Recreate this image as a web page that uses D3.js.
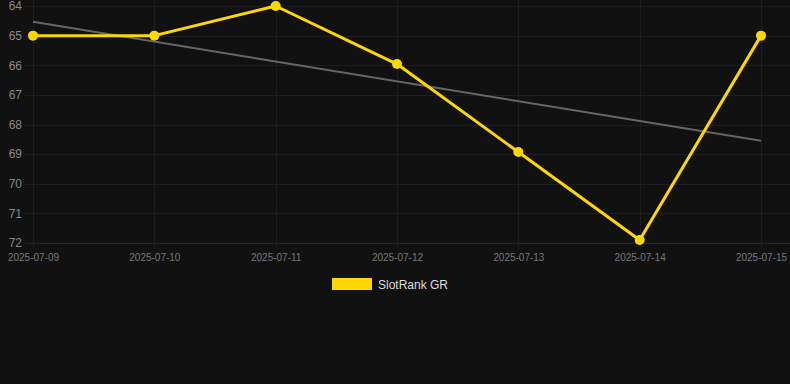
<!DOCTYPE html>
<html><head><meta charset="utf-8">
<script src="https://cdn.jsdelivr.net/npm/d3@7"></script>
<style>html,body{margin:0;padding:0;background:#111111;}svg{display:block;}</style>
</head><body>
<svg id="c" width="790" height="384"></svg>
<script>
const dates = ["2025-07-09","2025-07-10","2025-07-11","2025-07-12","2025-07-13","2025-07-14","2025-07-15"];
const rankValues = [65, 65, 64, 65.96, 68.93, 71.9, 65];
const yTicks = [64, 65, 66, 67, 68, 69, 70, 71, 72];
const seriesName = "SlotRank GR";

(function () {
const svg = d3.select("#c");
const W = 790, H = 384;
const pLeft = 33, pRight = 761, pTop = 6, pBottom = 243;

const x = d3.scalePoint().domain(dates).range([pLeft, pRight]);
const y = d3.scaleLinear().domain([64, 72]).range([pTop, pBottom]);

svg.append("rect").attr("width", W).attr("height", H).attr("fill", "#111111");

// grid
const grid = svg.append("g").attr("stroke", "#1e1e1e").attr("stroke-width", 1);
yTicks.forEach(t => {
  grid.append("line").attr("x1", pLeft - 8).attr("x2", W).attr("y1", Math.round(y(t)) + 0.5).attr("y2", Math.round(y(t)) + 0.5)
    .attr("stroke", t === 72 ? "#262626" : null);
});
dates.forEach(d => {
  grid.append("line").attr("x1", Math.round(x(d)) + 0.5).attr("x2", Math.round(x(d)) + 0.5).attr("y1", 0).attr("y2", pBottom + 6);
});

// y axis labels
const yAxis = svg.append("g").attr("transform", `translate(${pLeft - 11},0)`)
  .call(d3.axisLeft(y).tickValues(yTicks).tickSize(0).tickPadding(0).tickFormat(d3.format("d")));
yAxis.select(".domain").remove();
yAxis.selectAll("text").attr("fill", "#888888").attr("font-family", "Liberation Sans, Arial, sans-serif").attr("font-size", 12);

// x axis labels
const xAxis = svg.append("g").attr("transform", `translate(0,${pBottom + 10})`)
  .call(d3.axisBottom(x).tickSize(0).tickPadding(0));
xAxis.select(".domain").remove();
xAxis.selectAll("text").attr("fill", "#777777").attr("font-family", "Liberation Sans, Arial, sans-serif").attr("font-size", 10).attr("dy", "0.75em");

// trend line (least squares)
const n = rankValues.length;
const xs = d3.range(n);
const mx = d3.mean(xs), my = d3.mean(rankValues);
const slope = d3.sum(xs.map((v, i) => (v - mx) * (rankValues[i] - my))) / d3.sum(xs.map(v => (v - mx) ** 2));
const icpt = my - slope * mx;
svg.append("line")
  .attr("x1", x(dates[0])).attr("y1", y(icpt))
  .attr("x2", x(dates[n - 1])).attr("y2", y(icpt + slope * (n - 1)))
  .attr("stroke", "#666666").attr("stroke-width", 2);

// main line
const line = d3.line().x((d, i) => x(dates[i])).y(d => y(d));
svg.append("path").datum(rankValues).attr("d", line)
  .attr("fill", "none").attr("stroke", "#FFD700").attr("stroke-width", 3).attr("stroke-linejoin", "round");
svg.append("g").selectAll("circle").data(rankValues).join("circle")
  .attr("cx", (d, i) => x(dates[i])).attr("cy", d => y(d)).attr("r", 5).attr("fill", "#FFD700");

// legend
const lg = svg.append("g");
lg.append("rect").attr("x", 332).attr("y", 278).attr("width", 40).attr("height", 12).attr("fill", "#FFD700");
lg.append("text").attr("x", 378).attr("y", 289).text(seriesName)
  .attr("fill", "#dddddd").attr("font-family", "Liberation Sans, Arial, sans-serif").attr("font-size", 12);
})();
</script>
</body></html>
